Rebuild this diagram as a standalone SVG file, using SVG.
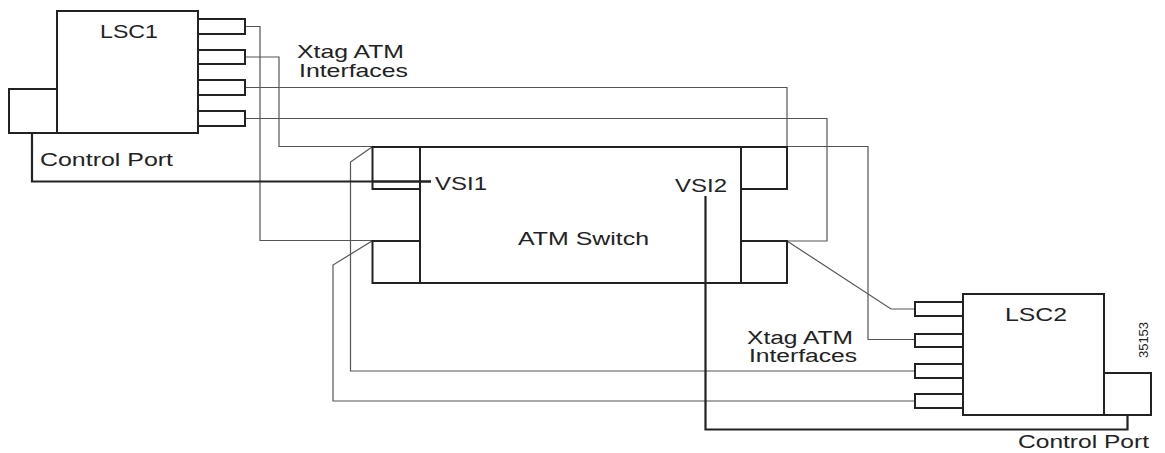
<svg xmlns="http://www.w3.org/2000/svg" width="1165" height="453" viewBox="0 0 1165 453">
<style>
.box{fill:none;stroke:#222;stroke-width:2}
.port{fill:#fff;stroke:#222;stroke-width:2}
.thin{fill:none;stroke:#555;stroke-width:1.2}
.thick{fill:none;stroke:#222;stroke-width:2.2}
text{font-family:"Liberation Sans",Arial,sans-serif;font-size:19px;fill:#222}
#xtag2 text{font-size:18px}
</style>
<rect width="1165" height="453" fill="#fff"/>
<g id="connectors">
<polyline class="thin" points="245,26.5 260,26.5 260,240.5 372,240.5"/>
<polyline class="thin" points="245,57 279,57 279,146.5 868,146.5 868,339.5 915,339.5"/>
<polyline class="thin" points="245,87.5 787,87.5 787,147"/>
<polyline class="thin" points="245,118.5 827,118.5 827,241 787,241"/>
<polyline class="thin" points="915,309 891,309 787,241"/>
<polyline class="thin" points="915,371 350.5,371 350.5,162 372,147"/>
<polyline class="thin" points="915,401 333,401 333,265 372,241"/>
<polyline class="thick" points="32,133 32,181.5 431,181.5"/>
<polyline class="thick" points="705.5,196 705.5,429.5 1127.5,429.5 1127.5,415"/>
</g>
<g id="lsc1">
<rect class="box" x="57" y="11" width="141" height="122"/>
<rect class="box" x="9" y="89" width="48" height="44"/>
<rect class="port" x="198" y="19" width="47" height="15"/>
<rect class="port" x="198" y="50" width="47" height="14"/>
<rect class="port" x="198" y="80" width="47" height="15"/>
<rect class="port" x="198" y="111" width="47" height="15"/>
<text x="100" y="38" textLength="58" lengthAdjust="spacingAndGlyphs">LSC1</text>
<text x="40" y="165.5" textLength="133" lengthAdjust="spacingAndGlyphs">Control Port</text>
</g>
<g id="xtag1">
<text x="297" y="58" textLength="107" lengthAdjust="spacingAndGlyphs">Xtag ATM</text>
<text x="299" y="77" textLength="109" lengthAdjust="spacingAndGlyphs">Interfaces</text>
</g>
<g id="atm-switch">
<rect class="box" x="420" y="147" width="321" height="136"/>
<rect class="box" x="372.5" y="147" width="47.5" height="42"/>
<rect class="box" x="372.5" y="241" width="47.5" height="42"/>
<rect class="box" x="741" y="147" width="46" height="42"/>
<rect class="box" x="741" y="241" width="46" height="42"/>
<line class="thick" x1="372" y1="181.5" x2="431" y2="181.5"/>
<text x="518" y="245" textLength="131" lengthAdjust="spacingAndGlyphs">ATM Switch</text>
<text x="435" y="190" textLength="52" lengthAdjust="spacingAndGlyphs">VSI1</text>
<text x="675" y="191.5" textLength="52" lengthAdjust="spacingAndGlyphs">VSI2</text>
</g>
<g id="lsc2">
<rect class="box" x="963" y="294" width="141" height="121"/>
<rect class="box" x="1104" y="373" width="47" height="42"/>
<rect class="port" x="915" y="302" width="48" height="14"/>
<rect class="port" x="915" y="334" width="48" height="13"/>
<rect class="port" x="915" y="364" width="48" height="14"/>
<rect class="port" x="915" y="394" width="48" height="14"/>
<text x="1005" y="320.5" textLength="62" lengthAdjust="spacingAndGlyphs">LSC2</text>
<text x="1018" y="448" textLength="131" lengthAdjust="spacingAndGlyphs">Control Port</text>
</g>
<g id="xtag2">
<text x="747" y="344" textLength="106" lengthAdjust="spacingAndGlyphs">Xtag ATM</text>
<text x="749" y="362" textLength="108" lengthAdjust="spacingAndGlyphs">Interfaces</text>
</g>
<text x="0" y="0" transform="translate(1147.5,358) rotate(-90)" style="font-size:13px" textLength="36" lengthAdjust="spacingAndGlyphs">35153</text>
</svg>
